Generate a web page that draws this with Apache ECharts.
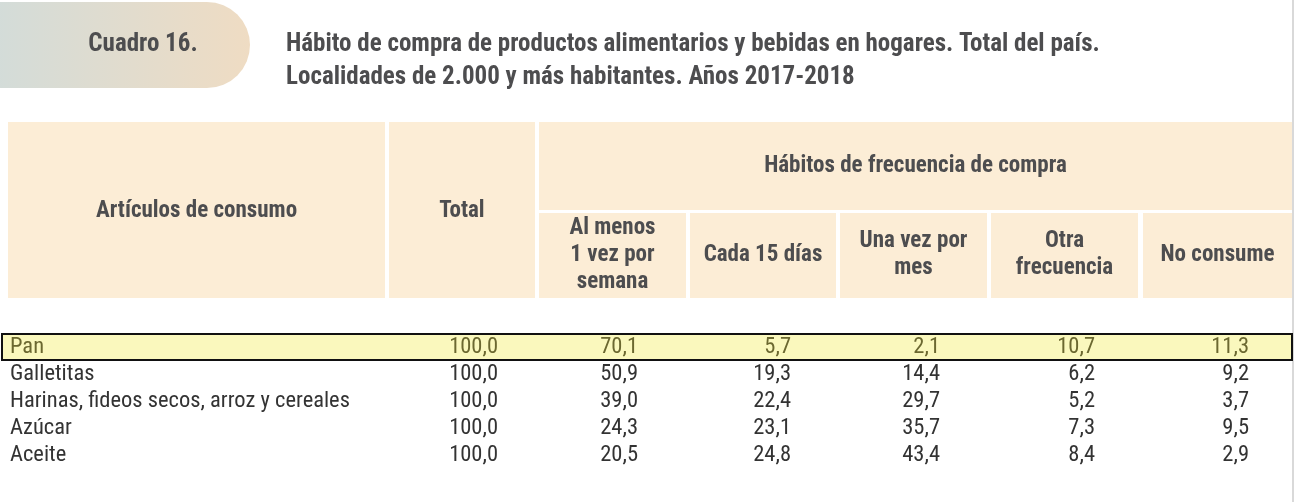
<!DOCTYPE html>
<html>
<head>
<meta charset="utf-8">
<script src="https://cdn.jsdelivr.net/npm/echarts@6/dist/echarts.min.js"></script>
<style>
  html, body { margin: 0; padding: 0; background: #fff; }
  #chart { width: 1296px; height: 502px; }
</style>
</head>
<body>
<div id="chart"></div>
<script>
const cuadro = "Cuadro 16.";
const titleLines = [
  "Hábito de compra de productos alimentarios y bebidas en hogares. Total del país.",
  "Localidades de 2.000 y más habitantes. Años 2017-2018",
];
const groupHeader = "Hábitos de frecuencia de compra";
const columnHeaders = [
  "Artículos de consumo",
  "Total",
  "Al menos\n1 vez por\nsemana",
  "Cada 15 días",
  "Una vez por\nmes",
  "Otra\nfrecuencia",
  "No consume",
];
const articles = ["Pan", "Galletitas", "Harinas, fideos secos, arroz y cereales", "Azúcar", "Aceite"];
const totals = ["100,0", "100,0", "100,0", "100,0", "100,0"];
const alMenosSemana = ["70,1", "50,9", "39,0", "24,3", "20,5"];
const cada15Dias = ["5,7", "19,3", "22,4", "23,1", "24,8"];
const unaVezMes = ["2,1", "14,4", "29,7", "35,7", "43,4"];
const otraFrecuencia = ["10,7", "6,2", "5,2", "7,3", "8,4"];
const noConsume = ["11,3", "9,2", "3,7", "9,5", "2,9"];

const font = '"Liberation Sans Narrow", "Roboto Condensed", "Liberation Sans", sans-serif';
const headFill = "#fcedd6";
const headText = "#4d4d4f";

// column boxes [x0, x1]
const cols = [[8, 385], [389, 535], [539, 686], [690, 836], [840, 987], [991, 1138], [1143, 1292]];
const numRight = [498, 638, 791, 940, 1095, 1249];
const rowY = [347, 374, 401, 428, 455];

const g = [];

// left badge
g.push({
  type: "rect",
  shape: { x: -40, y: 2, width: 290, height: 86, r: [0, 43, 43, 0] },
  style: {
    fill: new echarts.graphic.LinearGradient(0, 0, 1, 0, [
      { offset: 0, color: "#cfdcdc" },
      { offset: 1, color: "#efdcc3" },
    ]),
  },
});
g.push({
  type: "text", x: 143, y: 45,
  style: { text: cuadro, font: "bold 25px " + font, fill: headText, align: "center", verticalAlign: "middle" },
});
titleLines.forEach((t, i) => {
  g.push({
    type: "text", x: 286, y: 45 + i * 33,
    style: { text: t, font: "bold 25px " + font, fill: headText, verticalAlign: "middle" },
  });
});

// right page edge
g.push({ type: "line", shape: { x1: 1293, y1: 0, x2: 1293, y2: 502 }, style: { stroke: "#cccccc", lineWidth: 1.5 } });

// header cells
const hTop = 122, hMid = 210, hBot = 298;
g.push({ type: "rect", shape: { x: cols[0][0], y: hTop, width: cols[0][1] - cols[0][0], height: hBot - hTop }, style: { fill: headFill } });
g.push({ type: "rect", shape: { x: cols[1][0], y: hTop, width: cols[1][1] - cols[1][0], height: hBot - hTop }, style: { fill: headFill } });
g.push({ type: "rect", shape: { x: cols[2][0], y: hTop, width: cols[6][1] - cols[2][0], height: hMid - hTop }, style: { fill: headFill } });
for (let i = 2; i < 7; i++) {
  g.push({ type: "rect", shape: { x: cols[i][0], y: hMid + 3, width: cols[i][1] - cols[i][0], height: hBot - hMid - 3 }, style: { fill: headFill } });
}
const headStyle = (t, x, y) => ({
  type: "text", x, y,
  style: { text: t, font: "bold 23px " + font, fill: headText, align: "center", verticalAlign: "middle", lineHeight: 27 },
});
g.push(headStyle(columnHeaders[0], (cols[0][0] + cols[0][1]) / 2, 211));
g.push(headStyle(columnHeaders[1], (cols[1][0] + cols[1][1]) / 2, 211));
g.push(headStyle(groupHeader, (cols[2][0] + cols[6][1]) / 2, 166));
for (let i = 2; i < 7; i++) {
  g.push(headStyle(columnHeaders[i], (cols[i][0] + cols[i][1]) / 2, 255));
}

// highlighted first row
g.push({ type: "rect", shape: { x: 2, y: 334, width: 1290, height: 26 }, style: { fill: "#faf8bd", stroke: "#111", lineWidth: 2 } });

const series = [totals, alMenosSemana, cada15Dias, unaVezMes, otraFrecuencia, noConsume];
articles.forEach((a, r) => {
  const color = r === 0 ? "#6b6830" : "#333333";
  g.push({ type: "text", x: 10, y: rowY[r], style: { text: a, font: "22.5px " + font, fill: color, verticalAlign: "middle" } });
  series.forEach((s, c) => {
    g.push({ type: "text", x: numRight[c], y: rowY[r], style: { text: s[r], font: "22.5px " + font, fill: color, align: "right", verticalAlign: "middle" } });
  });
});

const chart = echarts.init(document.getElementById("chart"));
chart.setOption({ animation: false, graphic: g });
</script>
</body>
</html>
